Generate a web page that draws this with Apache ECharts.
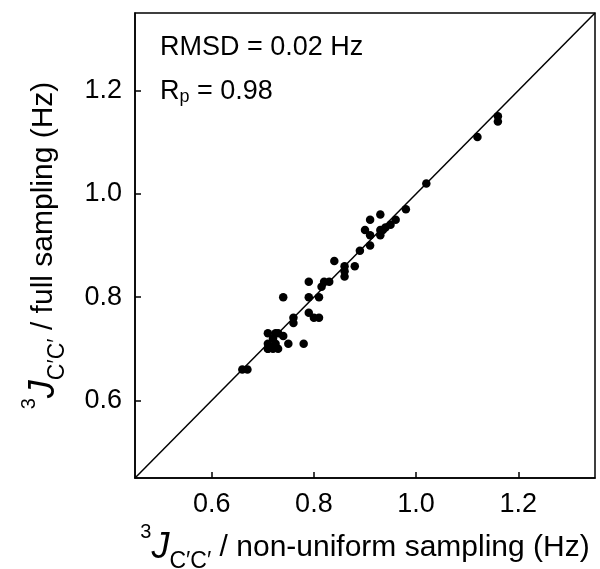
<!DOCTYPE html>
<html>
<head>
<meta charset="utf-8">
<script src="https://cdn.jsdelivr.net/npm/echarts@6/dist/echarts.min.js"></script>
<style>
html,body{margin:0;padding:0;background:#fff}
#main{width:600px;height:569px}
</style>
</head>
<body>
<div id="main"></div>
<script>
// 3J(C'C') couplings: non-uniform sampling (x) vs full sampling (y), Hz
var nusJ  = [0.66,0.67,0.71,0.71,0.71,0.72,0.73,0.71,0.725,0.72,0.725,0.73,0.74,0.75,0.78,0.74,0.76,0.76,0.79,0.80,0.81,0.79,0.79,0.81,0.815,0.82,0.83,0.84,0.86,0.86,0.86,0.88,0.89,0.90,0.91,0.91,0.91,0.93,0.93,0.935,0.94,0.95,0.96,0.93,0.98,1.02,1.12,1.16,1.16];
var fullJ = [0.66,0.66,0.70,0.70,0.71,0.70,0.70,0.73,0.71,0.72,0.73,0.73,0.725,0.71,0.71,0.80,0.75,0.76,0.77,0.76,0.76,0.80,0.83,0.80,0.82,0.83,0.83,0.87,0.84,0.85,0.86,0.86,0.89,0.93,0.90,0.92,0.95,0.92,0.93,0.93,0.935,0.94,0.95,0.96,0.97,1.02,1.11,1.14,1.15];
var identityLine = [[0.45,0.45],[1.35,1.35]];
var tickValues = [0.6,0.8,1.0,1.2];
var axisMin = 0.45, axisMax = 1.35;

var font = "'Liberation Sans', Arial, sans-serif";
var points = [];
for (var i = 0; i < nusJ.length; i++) points.push([nusJ[i], fullJ[i]]);

var titleRich = {
    sup: {fontSize: 20, fontFamily: font, color: '#000', verticalAlign: 'top', lineHeight: 22},
    j: {fontSize: 36, fontStyle: 'italic', fontFamily: font, color: '#000', lineHeight: 50},
    sub: {fontSize: 23, fontFamily: font, color: '#000', verticalAlign: 'bottom', lineHeight: 12},
    t: {fontSize: 30, fontFamily: font, color: '#000', lineHeight: 50}
};

function axisCfg(title, gap) {
    return {
        type: 'value',
        min: axisMin,
        max: axisMax,
        name: title,
        nameLocation: 'middle',
        nameGap: gap,
        nameTextStyle: {rich: titleRich},
        axisLine: {show: true, onZero: false, lineStyle: {color: '#000', width: 1.5}},
        axisTick: {show: true, inside: true, length: 6, customValues: tickValues, lineStyle: {color: '#000', width: 1.5}},
        axisLabel: {
            customValues: tickValues,
            color: '#000', fontSize: 27, fontFamily: font, margin: 13,
            formatter: function (v) { return v.toFixed(1); }
        },
        splitLine: {show: false}
    };
}

var myChart = echarts.init(document.getElementById('main'));
var option = {
    animation: false,
    backgroundColor: '#fff',
    grid: {
        left: 135, right: 5, top: 13, bottom: 91,
        containLabel: false, outerBoundsMode: 'none',
        show: true, borderColor: '#000', borderWidth: 1.5, backgroundColor: 'transparent'
    },
    xAxis: axisCfg('{sup|3}{j|J}{sub|C\u2032C\u2032}{t| / non-uniform sampling (Hz)}', 36),
    yAxis: axisCfg('{sup|3}{j|J}{sub|C\u2032C\u2032}{t| / full sampling (Hz)}', 66),
    graphic: [
        {type: 'text', left: 160, top: 34, style: {text: 'RMSD = 0.02 Hz', fontSize: 27, fontFamily: font, fill: '#000'}},
        {type: 'text', left: 160, top: 78, style: {
            text: '{r|R}{p|p}{r| = 0.98}',
            rich: {
                r: {fontSize: 27, fontFamily: font, fill: '#000', lineHeight: 30},
                p: {fontSize: 18, fontFamily: font, fill: '#000', verticalAlign: 'bottom', lineHeight: 14}
            }
        }}
    ],
    series: [
        {
            type: 'line',
            data: identityLine,
            symbol: 'none',
            lineStyle: {color: '#000', width: 1.5},
            silent: true
        },
        {
            type: 'scatter',
            data: points,
            symbol: 'circle',
            symbolSize: 8.5,
            itemStyle: {color: '#000', opacity: 1}
        }
    ]
};
myChart.setOption(option);
</script>
</body>
</html>
